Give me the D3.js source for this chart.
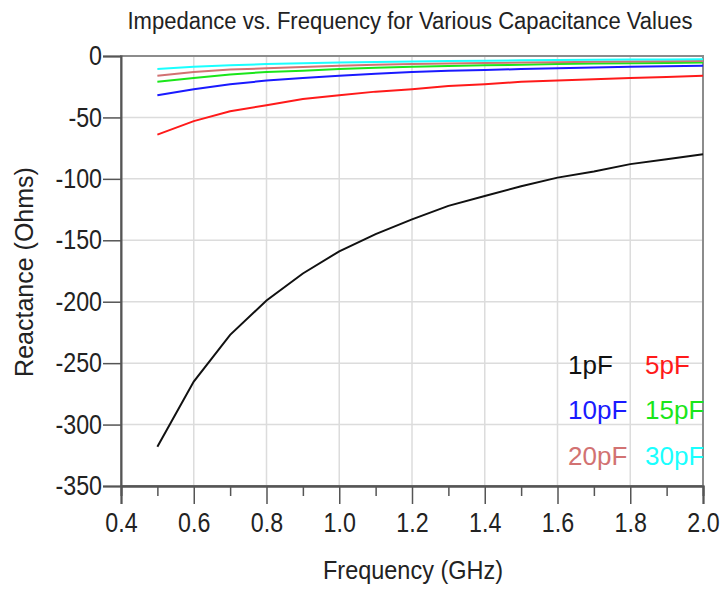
<!DOCTYPE html>
<html>
<head>
<meta charset="utf-8">
<script src="https://cdn.jsdelivr.net/npm/d3@7"></script>
<style>
body { margin: 0; background: #fff; }
text { font-family: "Liberation Sans", Arial, sans-serif; }
</style>
</head>
<body>
<div id="chart"></div>
<script>
// frequency points (GHz)
var freqs = [0.5, 0.6, 0.7, 0.8, 0.9, 1.0, 1.1, 1.2, 1.3, 1.4, 1.5, 1.6, 1.7, 1.8, 1.9, 2.0];

// reactance (Ohms)
var x1pF  = [-318, -265, -227, -199, -177, -159, -145, -133, -122, -114, -106, -99, -94, -88, -84, -80];
var x5pF  = [-64, -53, -45, -40, -35, -32, -29, -27, -24.5, -23, -21, -20, -19, -18, -17, -16];
var x10pF = [-32, -27, -23, -20, -18, -16, -14.5, -13, -12, -11.4, -10.6, -10, -9.4, -8.8, -8.4, -8];
var x15pF = [-21, -18, -15, -13, -12, -10.6, -9.6, -8.8, -8.2, -7.6, -7.1, -6.6, -6.2, -5.9, -5.6, -5.3];
var x20pF = [-16, -13, -11, -10, -9, -8, -7.2, -6.6, -6.1, -5.7, -5.3, -5, -4.7, -4.4, -4.2, -4];
var x30pF = [-10.6, -8.8, -7.6, -6.6, -5.9, -5.3, -4.8, -4.4, -4.1, -3.8, -3.5, -3.3, -3.1, -2.9, -2.8, -2.7];

var seriesNames = ["1pF", "5pF", "10pF", "15pF", "20pF", "30pF"];
var seriesValues = [x1pF, x5pF, x10pF, x15pF, x20pF, x30pF];
var seriesColors = ["#111111", "#ff1a1a", "#1a1aff", "#1ae61a", "#d27272", "#1affff"];

var xTicks = [0.4, 0.6, 0.8, 1.0, 1.2, 1.4, 1.6, 1.8, 2.0];
var xMinorTicks = [0.5, 0.7, 0.9, 1.1, 1.3, 1.5, 1.7, 1.9];
var yTicks = [0, -50, -100, -150, -200, -250, -300, -350];

// geometry
var W = 725, H = 592;
var plot = { left: 121, right: 703, top: 56, bottom: 486 };

var svg = d3.select("#chart").append("svg")
    .attr("width", W)
    .attr("height", H);

var xScale = d3.scaleLinear().domain([0.4, 2.0]).range([plot.left, plot.right]);
var yScale = d3.scaleLinear().domain([-350, 0]).range([plot.bottom, plot.top]);

// squeeze text horizontally, the reference fonts look tall and narrow
function condense(sel, k) {
    sel.each(function() {
        var w = this.getComputedTextLength();
        d3.select(this).attr("textLength", w * k).attr("lengthAdjust", "spacingAndGlyphs");
    });
}

// grid
svg.append("g").selectAll("line.vgrid")
    .data(xTicks)
    .enter().append("line")
    .attr("x1", function(d) { return xScale(d); })
    .attr("x2", function(d) { return xScale(d); })
    .attr("y1", plot.top)
    .attr("y2", plot.bottom)
    .attr("stroke", "#dcdcdc")
    .attr("stroke-width", 1.5);

svg.append("g").selectAll("line.hgrid")
    .data(yTicks)
    .enter().append("line")
    .attr("x1", plot.left)
    .attr("x2", plot.right)
    .attr("y1", function(d) { return yScale(d); })
    .attr("y2", function(d) { return yScale(d); })
    .attr("stroke", "#dcdcdc")
    .attr("stroke-width", 1.5);

// frame
svg.append("rect")
    .attr("x", plot.left)
    .attr("y", plot.top)
    .attr("width", plot.right - plot.left)
    .attr("height", plot.bottom - plot.top)
    .attr("fill", "none")
    .attr("stroke", "#8c8c8c")
    .attr("stroke-width", 2);

// curves
var line = d3.line()
    .x(function(d) { return xScale(d[0]); })
    .y(function(d) { return yScale(d[1]); });

seriesValues.forEach(function(vals, i) {
    var pts = freqs.map(function(f, j) { return [f, vals[j]]; });
    svg.append("path")
        .datum(pts)
        .attr("d", line)
        .attr("fill", "none")
        .attr("stroke", seriesColors[i])
        .attr("stroke-width", 2);
});

// axes
var xAxis = d3.axisBottom(xScale).tickValues(xTicks).tickSize(18).tickPadding(9)
    .tickFormat(d3.format(".1f"));
var xMinor = d3.axisBottom(xScale).tickValues(xMinorTicks).tickSize(10).tickFormat("");
var yAxis = d3.axisLeft(yScale).tickValues(yTicks).tickSize(18).tickPadding(1)
    .tickFormat(function(d) { return String(d); });

var gx = svg.append("g")
    .attr("transform", "translate(0," + plot.bottom + ")")
    .call(xAxis);
var gxm = svg.append("g")
    .attr("transform", "translate(0," + plot.bottom + ")")
    .call(xMinor);
var gy = svg.append("g")
    .attr("transform", "translate(" + plot.left + ",0)")
    .call(yAxis);

[gx, gxm, gy].forEach(function(g) {
    g.select(".domain").attr("stroke", "#555").attr("stroke-width", 2);
    g.selectAll(".tick line").attr("stroke", "#555").attr("stroke-width", 1.5);
    g.selectAll(".tick text")
        .attr("fill", "#222")
        .style("font-family", "'Liberation Sans', Arial, sans-serif")
        .style("font-size", "27px");
});
condense(gx.selectAll(".tick text"), 0.86);
condense(gy.selectAll(".tick text"), 0.86);

// title and labels
svg.append("text")
    .attr("x", 410)
    .attr("y", 29)
    .attr("text-anchor", "middle")
    .attr("fill", "#222")
    .style("font-size", "23px")
    .attr("textLength", 565)
    .attr("lengthAdjust", "spacingAndGlyphs")
    .text("Impedance vs. Frequency for Various Capacitance Values");

svg.append("text")
    .attr("x", 413)
    .attr("y", 579)
    .attr("text-anchor", "middle")
    .attr("fill", "#222")
    .style("font-size", "25px")
    .attr("textLength", 180)
    .attr("lengthAdjust", "spacingAndGlyphs")
    .text("Frequency (GHz)");

svg.append("text")
    .attr("transform", "translate(33,272) rotate(-90)")
    .attr("text-anchor", "middle")
    .attr("fill", "#222")
    .style("font-size", "25px")
    .text("Reactance (Ohms)");

// legend, two columns by three rows
var legendCols = [568, 645];
var legendRows = [374, 419, 465];
svg.append("g").selectAll("text")
    .data(seriesNames)
    .enter().append("text")
    .attr("x", function(d, i) { return legendCols[i % 2]; })
    .attr("y", function(d, i) { return legendRows[Math.floor(i / 2)]; })
    .attr("fill", function(d, i) { return seriesColors[i]; })
    .style("font-size", "26px")
    .text(function(d) { return d; });
</script>
</body>
</html>
